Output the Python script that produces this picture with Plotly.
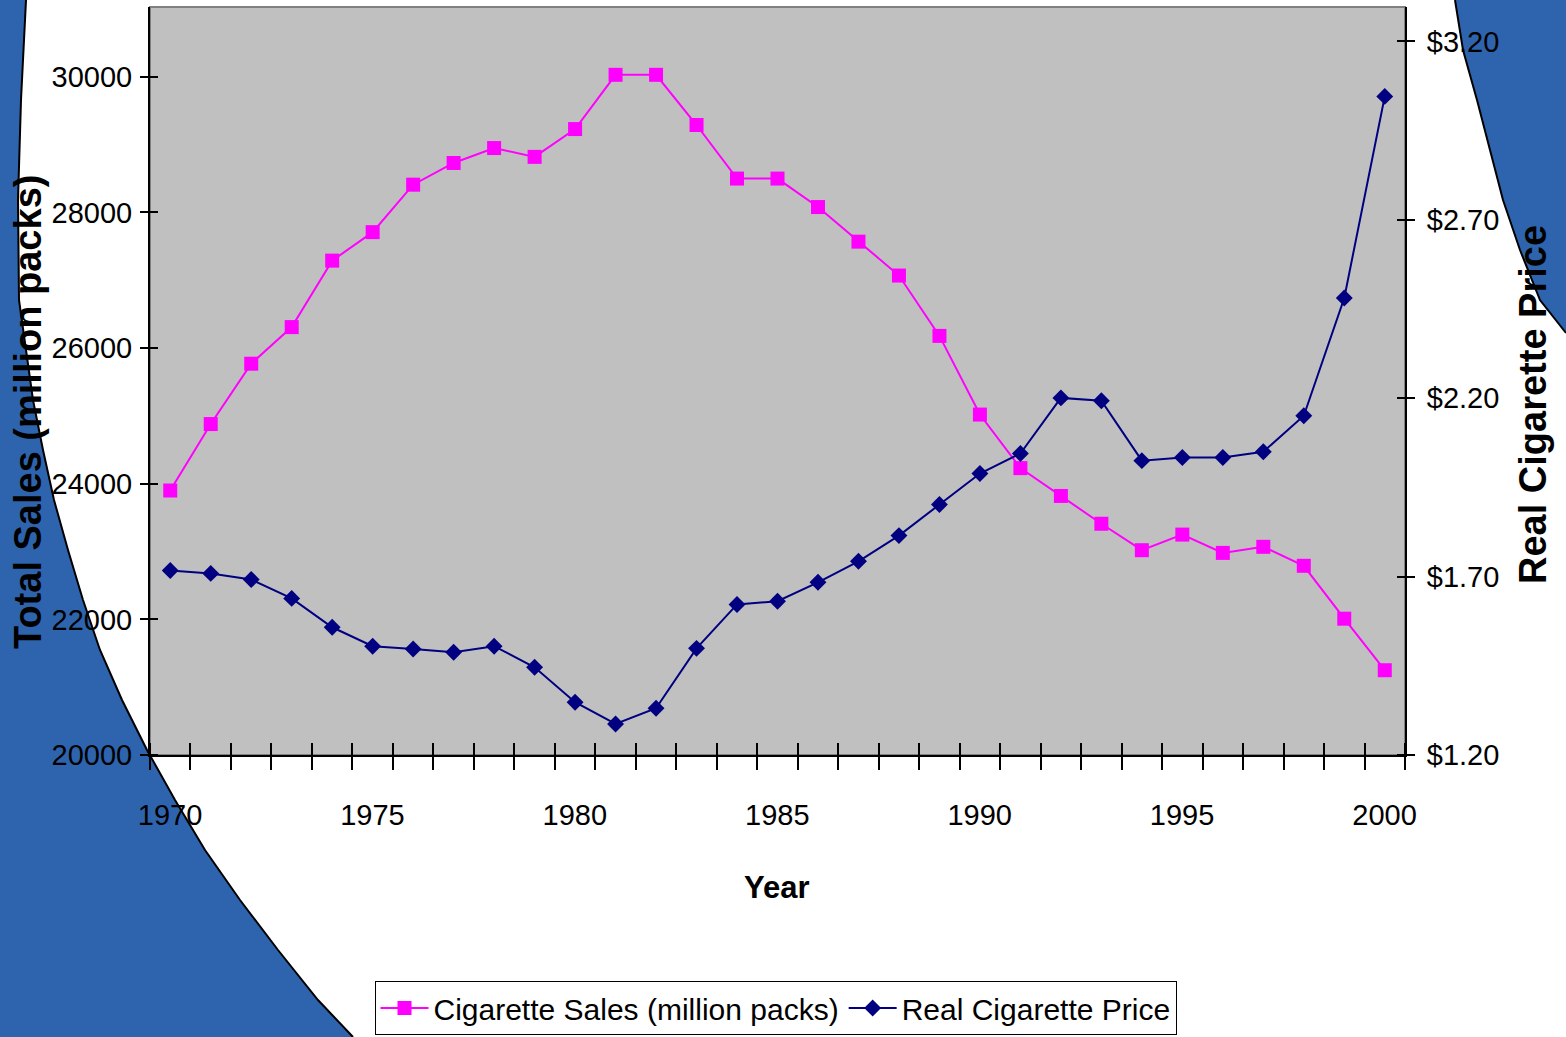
import plotly.graph_objects as go

# ---------------- data ----------------
years = list(range(1970, 2001))
sales = [23900, 24880, 25770, 26310, 27290, 27710, 28410, 28730, 28950, 28820,
         29230, 30030, 30030, 29290, 28500, 28500, 28080, 27570, 27070, 26180,
         25020, 24230, 23820, 23410, 23020, 23250, 22980, 23070, 22790, 22010,
         21250]
price = [1.717, 1.709, 1.692, 1.639, 1.558, 1.505, 1.497, 1.488, 1.505, 1.446,
         1.348, 1.287, 1.331, 1.499, 1.622, 1.631, 1.684, 1.743, 1.815, 1.902,
         1.989, 2.045, 2.201, 2.193, 2.025, 2.034, 2.034, 2.050, 2.151, 2.481,
         3.046]
sales_ticks = [20000, 22000, 24000, 26000, 28000, 30000]
sales_labels = [str(v) for v in sales_ticks]
price_ticks = [1.20, 1.70, 2.20, 2.70, 3.20]
price_labels = ["$1.20", "$1.70", "$2.20", "$2.70", "$3.20"]
year_bounds = [y - 0.5 for y in years] + [years[-1] + 0.5]
year_labels = [str(y) if (y - 1970) % 5 == 0 else " " for y in years] + [" "]

# ---------------- layout constants ----------------
W, H = 1566, 1037
L, R, T, B = 150, 1405, 7, 755
FONT = "Liberation Sans, Arial, sans-serif"
BLUE = "#2E64AE"


def px(x, y):
    return (x - L) / (R - L), (B - y) / (B - T)


def path(points, close=True):
    s = ""
    for i, (x, y) in enumerate(points):
        u, v = px(x, y)
        s += ("M" if i == 0 else "L") + f"{u:.5f},{v:.5f} "
    return s + ("Z" if close else "")


left_curve = [(26, 0), (21, 100), (18, 200), (19, 300), (26, 350), (33, 400), (43, 450),
              (54, 500), (68, 550), (83, 600), (100, 650), (122, 700), (147, 750),
              (175, 800), (205, 850), (240, 900), (278, 950), (318, 1000), (353, 1037)]
right_curve = [(1455, 0), (1463, 50), (1477, 100), (1490, 150), (1503, 200),
               (1520, 250), (1540, 300), (1566, 333)]

shapes = [
    dict(type="path", xref="paper", yref="paper", layer="below",
         path=path([(-5, -5)] + left_curve + [(353, 1045), (-5, 1045)]), fillcolor=BLUE,
         line=dict(width=0)),
    dict(type="path", xref="paper", yref="paper", layer="below",
         path=path(left_curve, close=False), line=dict(color="black", width=2)),
    dict(type="path", xref="paper", yref="paper", layer="below",
         path=path([(1455, -5)] + right_curve + [(1575, 333), (1575, -5)]),
         fillcolor=BLUE, line=dict(width=0)),
    dict(type="path", xref="paper", yref="paper", layer="below",
         path=path(right_curve, close=False), line=dict(color="black", width=2)),
    dict(type="rect", xref="paper", yref="paper", layer="below",
         x0=0, x1=1, y0=0, y1=1, line=dict(color="#808080", width=2)),
]

fig = go.Figure()
fig.add_trace(go.Scatter(
    x=years, y=sales, name="Cigarette Sales (million packs)", mode="lines+markers",
    line=dict(color="#FF00FF", width=2),
    marker=dict(symbol="square", size=14, color="#FF00FF"), yaxis="y"))
fig.add_trace(go.Scatter(
    x=years, y=price, name="Real Cigarette Price", mode="lines+markers",
    line=dict(color="#000080", width=2),
    marker=dict(symbol="diamond", size=13, color="#000080"), yaxis="y2"))

tickfont = dict(family=FONT, size=29, color="black")
fig.update_layout(
    width=W, height=H, autosize=False,
    margin=dict(l=L, r=W - R, t=T, b=H - B, pad=0),
    paper_bgcolor="white", plot_bgcolor="#C0C0C0",
    shapes=shapes,
    showlegend=True,
    legend=dict(orientation="h", xref="container", yref="container",
                x=775.5 / W, xanchor="center", y=2 / H, yanchor="bottom",
                bordercolor="black", borderwidth=1, bgcolor="white", itemwidth=48,
                font=dict(family=FONT, size=30, color="black")),
    xaxis=dict(range=[1969.5, 2000.5], tickmode="array", tickvals=year_bounds,
               ticktext=year_labels, ticks="outside", ticklen=13, tickwidth=1.5,
               tickcolor="black", showline=True, linecolor="black", linewidth=2,
               showgrid=False, zeroline=False, ticklabelshift=20,
               ticklabelstandoff=20, tickfont=tickfont, automargin=False,
               minor=dict(tickmode="array", tickvals=year_bounds, ticks="inside",
                          ticklen=12, tickwidth=1.5, tickcolor="black", showgrid=False)),
    yaxis=dict(range=[20000, 31030], tickmode="array", tickvals=sales_ticks,
               ticktext=sales_labels, automargin=False,
               ticks="outside", ticklen=8, tickwidth=1.5, tickcolor="black",
               showline=True, linecolor="black", linewidth=2, showgrid=False,
               zeroline=False, tickfont=tickfont, ticklabelstandoff=2,
               minor=dict(tickmode="array", tickvals=sales_ticks, ticks="inside",
                          ticklen=8, tickwidth=1.5, tickcolor="black", showgrid=False)),
    yaxis2=dict(range=[1.2, 3.2966], overlaying="y", side="right", tickmode="array",
                tickvals=price_ticks, ticktext=price_labels, ticks="outside", ticklen=8,
                tickwidth=1.5, tickcolor="black", showline=True, linecolor="black",
                linewidth=2, showgrid=False, zeroline=False, tickfont=tickfont,
                ticklabelstandoff=6, automargin=False,
                minor=dict(tickmode="array", tickvals=price_ticks, ticks="inside",
                           ticklen=8, tickwidth=1.5, tickcolor="black", showgrid=False)),
    annotations=[
        dict(text="<b>Total Sales (million packs)</b>", xref="paper", yref="paper",
             x=px(28, 412)[0], y=px(28, 412)[1], textangle=-90, showarrow=False,
             xanchor="center", yanchor="middle",
             font=dict(family=FONT, size=38, color="black")),
        dict(text="<b>Real Cigarette Price</b>", xref="paper", yref="paper",
             x=px(1533, 405)[0], y=px(1533, 405)[1], textangle=-90, showarrow=False,
             xanchor="center", yanchor="middle",
             font=dict(family=FONT, size=38, color="black")),
        dict(text="<b>Year</b>", xref="paper", yref="paper",
             x=px(777, 887)[0], y=px(777, 887)[1], showarrow=False,
             xanchor="center", yanchor="middle",
             font=dict(family=FONT, size=31, color="black")),
    ],
)

fig.write_html("out.html", config={"displayModeBar": False},
               post_script="document.body.style.margin='0px';document.body.style.overflow='hidden';")
